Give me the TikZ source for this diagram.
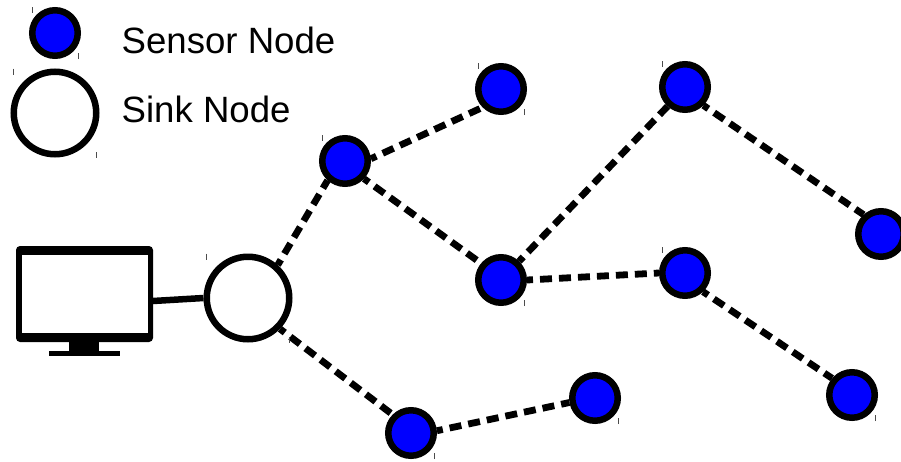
\documentclass[tikz,border=0pt]{standalone}
\usepackage{fontspec}
\setmainfont{Liberation Sans}
\usepackage{tikz}

\begin{document}
\begin{tikzpicture}[
  x=1pt, y=-1pt,
  sensor/.style = {shape=circle, draw, fill=blue, line width=6.5pt, inner sep=0pt, minimum size=45.5pt},
  sink/.style = {shape=circle, draw, fill=white, line width=6.5pt, inner sep=0pt, minimum size=82.5pt},
  label/.style = {anchor=base west, inner sep=0pt, font=\fontsize{36.6}{40}\selectfont},
  link/.style = {line width=6.8pt, dash pattern=on 12pt off 7pt, dash phase=6pt},
  wire/.style = {line width=6.5pt},
  tick/.style = {line width=1pt, black!70}
    ]
  \useasboundingbox (0,0) rectangle (901,461);

  \node[sensor] (keysensor) at (55,33) {};
  \node[sink] (keysink) at (55,113) {};
  \node[label] (sensortext) at (121.5,53) {Sensor Node};
  \node[label] (sinktext) at (121.5,122) {Sink Node};

  % monitor
  \node[shape=rectangle, fill=black, rounded corners=4pt, inner sep=0pt,
        minimum width=137pt, minimum height=96pt] (monitor) at (84.5,294) {};
  \node[shape=rectangle, fill=white, inner sep=0pt,
        minimum width=126pt, minimum height=78pt] (screen) at (84.7,294) {};
  \node[shape=rectangle, fill=black, inner sep=0pt,
        minimum width=30pt, minimum height=10pt] (stand) at (84,346) {};
  \node[shape=rectangle, fill=black, inner sep=0pt,
        minimum width=71pt, minimum height=5pt] (base) at (84.5,353.5) {};
  \coordinate (port) at (153,301);

  \node[sink] (sinknode) at (248,298) {};
  \node[sensor] (a) at (345,161) {};
  \node[sensor] (b) at (501,89) {};
  \node[sensor] (c) at (685,87) {};
  \node[sensor] (d) at (881,234) {};
  \node[sensor] (e) at (501,280) {};
  \node[sensor] (f) at (685,273) {};
  \node[sensor] (g) at (852,395) {};
  \node[sensor] (h) at (595,398) {};
  \node[sensor] (i) at (411,433) {};

  \draw[wire] (port) -- (sinknode.west);
  \foreach \from/\to in {sinknode.48/a.228, sinknode.-44/i.135, a.5/b.225, a.-43/e.140,
      e.46/c.228, e.0/f.180, c.-45/d.132, f.-46/g.140, i.5/h.190}
    \draw[link] (\from) -- (\to);

  % small marks at the corners of the node boxes
  \foreach \n/\r in {keysensor/23, a/23, b/23, c/23, f/23, keysink/41.5, sinknode/41.5}
    \draw[tick] ([shift={(-\r,-\r-3)}]\n.center) -- ++(0,6);
  \foreach \n/\r in {keysensor/23, b/23, e/23, g/23, h/23, i/23, keysink/41.5, sinknode/41.5}
    \draw[tick] ([shift={(\r,\r+3)}]\n.center) -- ++(0,-6);
\end{tikzpicture}
\end{document}
